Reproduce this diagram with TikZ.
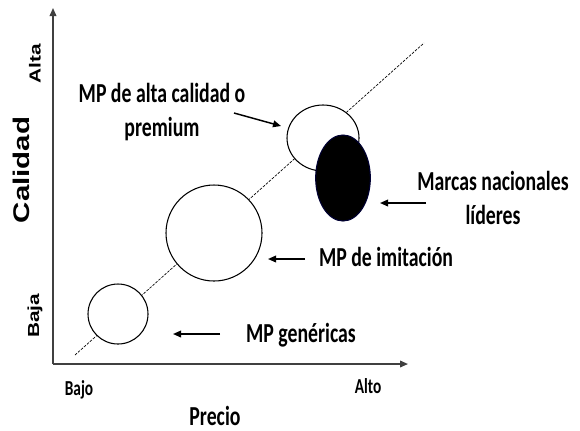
\documentclass[tikz,border=0pt]{standalone}
\usepackage{fontspec}
\setmainfont{Carlito}
\newfontfamily\lblfont{Carlito}[FakeStretch=0.72]
\newfontfamily\axfont{Liberation Sans}[FakeStretch=1.3]
\usetikzlibrary{shapes.geometric,arrows.meta}

\begin{document}
\begin{tikzpicture}[x=0.75pt,y=-0.75pt,
  lbl/.style={font=\lblfont\bfseries\fontsize{20.6}{26}\selectfont, align=center, inner sep=0},
  small/.style={font=\lblfont\bfseries\fontsize{16}{18}\selectfont, inner sep=0},
  axlbl/.style={font=\axfont\bfseries\fontsize{12}{14}\selectfont, rotate=90, inner sep=0},
  bubble/.style={draw, fill=white, line width=0.8pt, inner sep=0},
  axis/.style={line width=1.1pt, draw=black!75, -{Triangle[length=6pt,width=5pt]}},
  arr/.style={line width=1.1pt, -{Triangle[length=6pt,width=5pt]}}]

\useasboundingbox (0,0) rectangle (580,430);

% axes and diagonal
\coordinate (orig) at (53,364);
\coordinate (ytop) at (53,8);
\coordinate (xend) at (408,364);
\coordinate (dlow) at (75,355);
\coordinate (dhigh) at (424,43);
\draw[axis] (orig) -- (ytop);
\draw[axis] (orig) -- (xend);
\draw[line width=0.5pt, dash pattern=on 2pt off 1pt] (dlow) -- (dhigh);

% bubbles
\node[bubble, circle, minimum size=45pt] (gen) at (118,314) {};
\node[bubble, circle, minimum size=72pt] (imit) at (214,233) {};
\node[bubble, ellipse, minimum width=54pt, minimum height=49.5pt] (prem) at (323,138) {};
\node[bubble, ellipse, fill=black, draw=black!80!blue, minimum width=41pt, minimum height=64.5pt] (lider) at (343,178) {};

% labels
\node[lbl] (premlbl) at (162,112) {MP de alta calidad o\\premium};
\node[lbl] (liderlbl) at (493,198) {Marcas nacionales\\líderes};
\node[lbl, anchor=base] (imitlbl) at (386,266) {MP de imitación};
\node[lbl, anchor=base] (genlbl) at (301,342) {MP genéricas};
\node[small, anchor=base] (bajo) at (79,395) {Bajo};
\node[small, anchor=base] (alto) at (368,393) {Alto};
\node[lbl, anchor=base] (precio) at (215,425) {Precio};
\node[axlbl, font=\axfont\bfseries\fontsize{17}{20}\selectfont] (calidad) at (21,170) {Calidad};
\node[axlbl] (alta) at (35,64) {Alta};
\node[axlbl] (baja) at (35,316) {Baja};

% pointers
\coordinate (p1) at (234,113);
\coordinate (p2) at (281,126);
\coordinate (l1) at (426,203);
\coordinate (l2) at (380,203);
\coordinate (i1) at (305,259);
\coordinate (i2) at (268,259);
\coordinate (g1) at (220,334);
\coordinate (g2) at (173,334);
\draw[arr] (p1) -- (p2);
\draw[arr] (l1) -- (l2);
\draw[arr] (i1) -- (i2);
\draw[arr] (g1) -- (g2);
\end{tikzpicture}
\end{document}
